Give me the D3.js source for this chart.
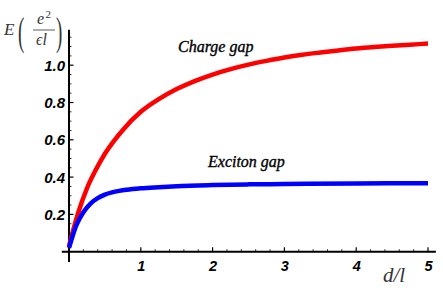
<!DOCTYPE html>
<html>
<head>
<meta charset="utf-8">
<script src="https://cdn.jsdelivr.net/npm/d3@7"></script>
<style>
  body { margin: 0; background: #fff; }
  svg { display: block; }
</style>
</head>
<body>
<svg id="chart"></svg>
<script>
// d/l sample points and gaps
const chargeD   = [0, 0.125, 0.25, 0.375, 0.5, 0.75, 1.0, 1.25, 1.5, 1.75, 2.0, 2.25, 2.5, 2.75, 3.0, 3.25, 3.5, 3.75, 4.0, 4.25, 4.5, 4.75, 5.0];
const chargeGap = [0.03, 0.205, 0.34, 0.44, 0.525, 0.653, 0.75, 0.818, 0.872, 0.915, 0.95, 0.979, 1.003, 1.023, 1.041, 1.056, 1.068, 1.079, 1.089, 1.097, 1.104, 1.11, 1.116];
const excitonD   = [0, 0.1, 0.2, 0.3, 0.4, 0.5, 0.6, 0.7, 0.8, 1.0, 1.25, 1.5, 2.0, 2.5, 3.0, 4.0, 5.0];
const excitonGap = [0.02, 0.14, 0.212, 0.258, 0.287, 0.306, 0.318, 0.326, 0.332, 0.34, 0.346, 0.351, 0.357, 0.361, 0.363, 0.366, 0.367];

const xTicks = [1, 2, 3, 4, 5];
const yTicks = [0.2, 0.4, 0.6, 0.8, 1.0];

const width = 443, height = 303;
const svg = d3.select("#chart").attr("width", width).attr("height", height);

const x = d3.scaleLinear().domain([0, 5]).range([69, 428]);
const y = d3.scaleLinear().domain([0, 1]).range([251.7, 65.2]);

// axes, Mathematica style with inward ticks
const axisG = svg.append("g").attr("stroke", "#000");
axisG.append("line")
    .attr("x1", x(-0.1)).attr("x2", x(5.11))
    .attr("y1", y(0)).attr("y2", y(0))
    .attr("stroke-width", 2);
axisG.append("line")
    .attr("x1", x(0)).attr("x2", x(0))
    .attr("y1", y(-0.055)).attr("y2", y(1.19))
    .attr("stroke-width", 2);

const xMinor = d3.range(1, 26).map(i => i * 0.2).filter(v => !xTicks.some(t => Math.abs(t - v) < 1e-6));
const yMinor = d3.range(1, 24).map(i => i * 0.05).filter(v => !yTicks.some(t => Math.abs(t - v) < 1e-6));

axisG.selectAll(".xmaj").data(xTicks).enter().append("line")
    .attr("x1", d => x(d)).attr("x2", d => x(d))
    .attr("y1", y(0)).attr("y2", y(0) - 4.5).attr("stroke-width", 1.2);
axisG.selectAll(".xmin").data(xMinor).enter().append("line")
    .attr("x1", d => x(d)).attr("x2", d => x(d))
    .attr("y1", y(0)).attr("y2", y(0) - 2.5).attr("stroke-width", 0.8);
axisG.selectAll(".ymaj").data(yTicks).enter().append("line")
    .attr("x1", x(0)).attr("x2", x(0) + 4.5)
    .attr("y1", d => y(d)).attr("y2", d => y(d)).attr("stroke-width", 1.2);
axisG.selectAll(".ymin").data(yMinor).enter().append("line")
    .attr("x1", x(0)).attr("x2", x(0) + 2.5)
    .attr("y1", d => y(d)).attr("y2", d => y(d)).attr("stroke-width", 0.8);

// tick labels
const tickFont = "'Liberation Sans', Arial, sans-serif";
svg.selectAll(".xlab").data(xTicks).enter().append("text")
    .attr("x", d => x(d) + 0.5).attr("y", 271)
    .attr("text-anchor", "middle")
    .attr("font-family", tickFont).attr("font-size", "14.5px")
    .attr("font-weight", "bold").attr("font-style", "italic")
    .text(d => d);
svg.selectAll(".ylab").data(yTicks).enter().append("text")
    .attr("x", 65).attr("y", d => y(d)).attr("dy", "0.36em")
    .attr("text-anchor", "end")
    .attr("font-family", tickFont).attr("font-size", "15px")
    .attr("font-weight", "bold").attr("font-style", "italic")
    .text(d => d.toFixed(1));

// curves
const line = d3.line().x(d => x(d[0])).y(d => y(d[1])).curve(d3.curveMonotoneX);
svg.append("path")
    .datum(chargeD.map((d, i) => [d, chargeGap[i]]))
    .attr("fill", "none").attr("stroke", "#ff0000").attr("stroke-width", 4.5)
    .attr("d", line);
svg.append("path")
    .datum(excitonD.map((d, i) => [d, excitonGap[i]]))
    .attr("fill", "none").attr("stroke", "#0000ff").attr("stroke-width", 4.5)
    .attr("d", line);

// curve labels
const serif = "'Liberation Serif', 'DejaVu Serif', serif";
svg.append("text").attr("x", 178).attr("y", 51.5)
    .attr("font-family", serif).attr("font-style", "italic").attr("font-size", "16px")
    .attr("stroke", "#000").attr("stroke-width", 0.35)
    .text("Charge gap");
svg.append("text").attr("x", 208).attr("y", 166.5)
    .attr("font-family", serif).attr("font-style", "italic").attr("font-size", "16px")
    .attr("stroke", "#000").attr("stroke-width", 0.35)
    .text("Exciton gap");

// axis labels
svg.append("text").attr("x", 383).attr("y", 281.5)
    .attr("font-family", serif).attr("font-style", "italic").attr("font-size", "21px")
    .attr("fill", "#333")
    .text("d/l");

const yl = svg.append("g").attr("font-family", serif).attr("fill", "#333");
yl.append("text").attr("x", 4).attr("y", 34.5)
    .attr("font-style", "italic").attr("font-size", "17px").text("E");
yl.append("text").attr("transform", "translate(18,44.5) scale(1,2.1)")
    .attr("font-size", "19px").text("(");
yl.append("text").attr("transform", "translate(56,44.5) scale(1,2.1)")
    .attr("font-size", "19px").text(")");
yl.append("text").attr("x", 37).attr("y", 24)
    .attr("font-style", "italic").attr("font-size", "16px").text("e");
yl.append("text").attr("x", 45.5).attr("y", 17.5)
    .attr("font-size", "11px").text("2");
yl.append("line").attr("x1", 33).attr("x2", 55).attr("y1", 30).attr("y2", 30)
    .attr("stroke", "#333").attr("stroke-width", 0.8);
yl.append("text").attr("x", 36).attr("y", 45)
    .attr("font-style", "italic").attr("font-size", "16px").text("\u03F5l");
</script>
</body>
</html>
